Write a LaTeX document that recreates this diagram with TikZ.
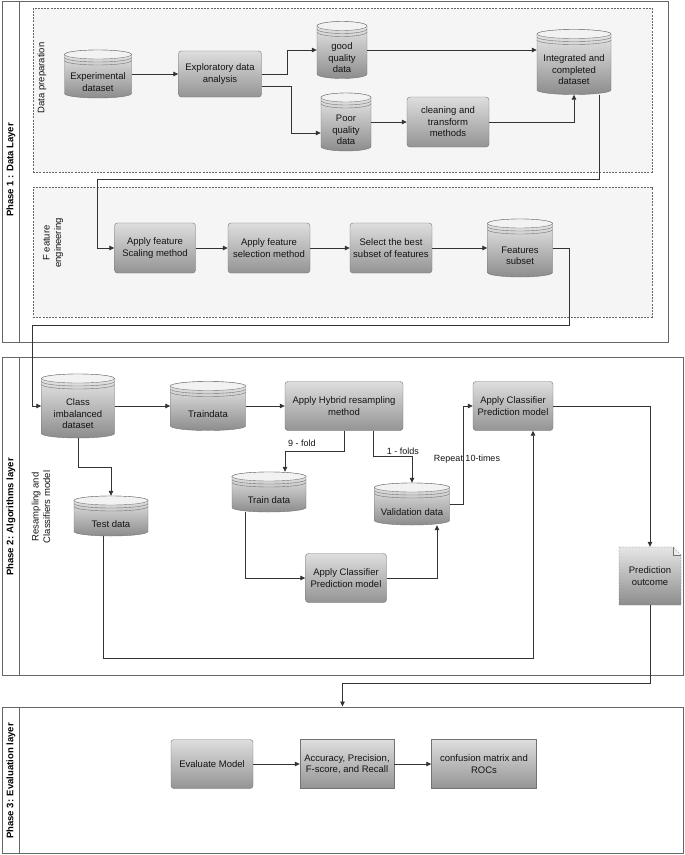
\documentclass[tikz,border=0pt]{standalone}
\usepackage{fontspec}
\setmainfont{Liberation Sans}
\usetikzlibrary{arrows.meta}

\definecolor{boxline}{gray}{0.45}
\definecolor{darkline}{gray}{0.2}

\tikzset{
  txt/.style={align=center, font=\fontsize{9.5}{11.5}\selectfont, text=black!92, inner sep=0pt},
  dbnode/.style={inner sep=0pt},
  procbox/.style={txt, draw=boxline, rounded corners=3pt, top color=black!13, bottom color=black!42},
  sqbox/.style={procbox, sharp corners},
  stage/.style={draw=black!60, dash pattern=on 2pt off 1.2pt, fill=black!4, inner sep=0pt},
  phase/.style={draw=black!60, line width=1pt, inner sep=0pt},
  phaselbl/.style={rotate=90, font=\bfseries\fontsize{9.5}{11}\selectfont},
  lbl/.style={font=\fontsize{9}{11}\selectfont, text=black!92, inner sep=1pt},
  arr/.style={->, draw=darkline, line width=0.8pt},
}

% database cylinder: name, x, y, width, height, text
\newcommand{\dbcyl}[6]{
  \begin{scope}[shift={(#2,#3)}, x radius=#4/2, y radius=4.5]
    \pgfmathsetmacro{\hw}{#4/2}
    \pgfmathsetmacro{\hh}{#5/2}
    \draw[boxline, top color=black!8, bottom color=black!45] (-\hw,\hh-4.5) -- (-\hw,-\hh+4.5) arc[start angle=180, end angle=360] -- (\hw,\hh-4.5) arc[start angle=0, end angle=180] -- cycle;
    \draw[boxline, fill=black!5] (0,\hh-4.5) ellipse[];
    \draw[boxline] (-\hw,\hh-7.5) arc[start angle=180, end angle=360];
    \draw[boxline] (-\hw,\hh-10.5) arc[start angle=180, end angle=360];
  \end{scope}
  \node[dbnode, minimum width=#4, minimum height=#5] (#1) at (#2,#3) {};
  \node[txt] (#1-t) at (#2,#3-8) {#6};
}

\begin{document}
\begin{tikzpicture}[x=1pt, y=1pt, >={Triangle[length=5pt, width=4.5pt]}]
\useasboundingbox (0,0) rectangle (685,-855);

% phases
\node[phase, minimum width=666, minimum height=341] (ph1) at (335,-171.5) {};
\node[phase, minimum width=681, minimum height=318] (ph2) at (342.5,-516) {};
\node[phase, minimum width=681, minimum height=146] (ph3) at (342.5,-780) {};
\foreach \p in {ph1,ph2,ph3}
  \draw[black!60, line width=1pt] ([xshift=18pt]\p.north west) -- ([xshift=18pt]\p.south west);
\node[phaselbl] (ph1-l) at (11,-170) {Phase 1 : Data Layer};
\node[phaselbl] (ph2-l) at (11,-517) {Phase 2: Algorithms layer};
\node[phaselbl] (ph3-l) at (11,-781) {Phase 3: Evaluation layer};

% stages of phase 1
\node[stage, minimum width=619, minimum height=164] (dprep) at (342.5,-90) {};
\node[stage, minimum width=619, minimum height=130] (feng) at (342.5,-252) {};
\node[txt, rotate=90] (dprep-l) at (42,-78) {Data preparation};
\node[txt, rotate=90] (feng-l) at (53,-243) {F eature\\engineering};
\node[txt, rotate=90] (resam-l) at (41,-507) {Resampling and\\Classifiers model};

% data preparation
\dbcyl{expdata}{98}{-74}{67}{48}{Experimental\\dataset}
\node[procbox, minimum width=83, minimum height=46] (eda) at (220,-74) {Exploratory data\\analysis};
\dbcyl{good}{342}{-50}{50}{57}{good\\quality\\data}
\dbcyl{poor}{346}{-122}{50}{58}{Poor\\quality\\data}
\node[procbox, minimum width=82, minimum height=50] (clean) at (448,-122) {cleaning and\\transform\\methods};
\dbcyl{integ}{574}{-62}{74}{65}{Integrated and\\completed\\dataset}

% feature engineering
\node[procbox, minimum width=81, minimum height=50] (scale) at (155,-248) {Apply feature\\Scaling method};
\node[procbox, minimum width=82, minimum height=50] (select) at (269,-248) {Apply feature\\selection method};
\node[procbox, minimum width=82, minimum height=50] (best) at (391,-248) {Select the best\\subset of features};
\dbcyl{fsub}{520}{-248}{65}{58}{Features\\subset}

% resampling and classifiers
\dbcyl{cls}{78}{-406}{73}{64}{Class\\imbalanced\\dataset}
\dbcyl{traind}{208}{-406}{75}{49}{Traindata}
\node[procbox, minimum width=118, minimum height=49] (hyb) at (344,-406) {Apply Hybrid resampling\\method};
\node[procbox, minimum width=80, minimum height=49] (clf1) at (513,-406) {Apply Classifier\\Prediction model};
\dbcyl{trdata}{269}{-492}{74}{40}{Train data}
\dbcyl{test}{111}{-516}{74}{40}{Test data}
\dbcyl{val}{412}{-504}{75}{42}{Validation data}
\node[procbox, minimum width=81, minimum height=49] (clf2) at (346,-578) {Apply Classifier\\Prediction model};
\draw[boxline, dash pattern=on 2pt off 1.2pt, top color=black!10, bottom color=black!45] (619,-547) -- (673,-547) -- (681,-555) -- (681,-605) -- (619,-605) -- cycle;
\draw[boxline, fill=black!8] (673,-547) -- (673,-555) -- (681,-555);
\node[txt, minimum width=62, minimum height=58] (pred) at (650,-576) {Prediction\\outcome};

% evaluation
\node[procbox, minimum width=82, minimum height=49] (evalm) at (212,-764) {Evaluate Model};
\node[sqbox, minimum width=94, minimum height=49] (acc) at (347,-764) {Accuracy, Precision,\\F-score, and Recall};
\node[sqbox, minimum width=105, minimum height=49] (conf) at (484,-764) {confusion matrix and\\ROCs};

% phase 1 arrows
\draw[arr] (expdata) -- (eda);
\draw[arr] (eda.east) -- ++(26,0) |- (good);
\draw[arr] ([yshift=-12pt]eda.east) -- ++(30,0) |- ([yshift=-11pt]poor.west);
\draw[arr] (good) -- (good -| integ.west);
\draw[arr] (poor) -- (clean);
\draw[arr] (clean) -| (integ);
\draw[arr] ([xshift=25pt]integ.south) -- ++(0,-85) -| ([xshift=-17pt]scale.west) -- (scale.west);
\draw[arr] (scale) -- (select);
\draw[arr] (select) -- (best);
\draw[arr] (best) -- (fsub);
\draw[arr] (fsub.east) -- ++(17,0) -- ++(0,-77) -| ([xshift=-9pt]cls.west) -- (cls.west);

% phase 2 arrows
\draw[arr] (cls) -- (traind);
\draw[arr] (traind) -- (hyb);
\draw[arr] (hyb.south) -- ++(0,-21) -| ([xshift=16pt]trdata.north);
\draw[arr] ([xshift=29pt]hyb.south) -- ++(0,-26) -| (val);
\draw[arr] (val.east) -- ++(14,0) |- (clf1);
\draw[arr] (clf1) -| (pred);
\draw[arr] (cls.south) -- ++(0,-29) -| (test);
\draw[arr] ([xshift=-24pt]trdata.south) |- (clf2);
\draw[arr] (clf2) -| ([xshift=25pt]val.south);
\draw[arr] ([xshift=-8pt]test.south) -- ++(0,-122) -| ([xshift=20pt]clf1.south);
\node[lbl] (fold9) at (302,-443) {9 - fold};
\node[lbl] (fold1) at (403,-451) {1 - folds};
\node[lbl] (rep) at (467,-459) {Repeat 10-times};

% phase 3 arrows
\draw[arr] (pred.south) -- ++(0,-78) -| (ph3.north);
\draw[arr] (evalm) -- (acc);
\draw[arr] (acc) -- (conf);
\end{tikzpicture}
\end{document}
